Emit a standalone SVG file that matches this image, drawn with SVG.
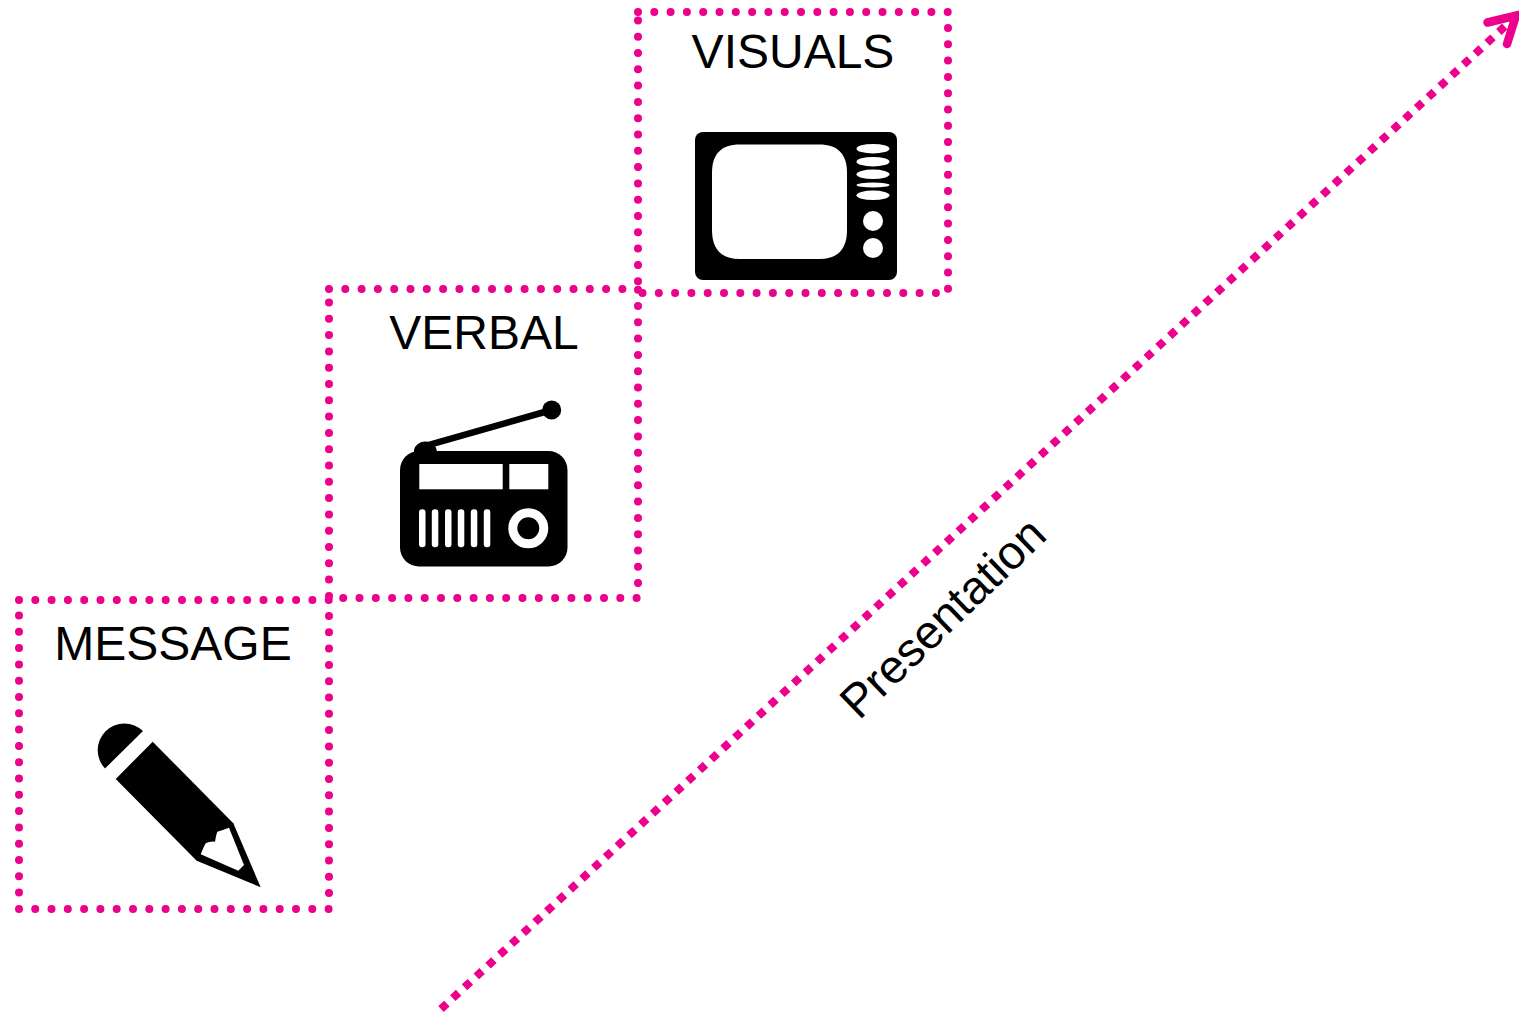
<svg xmlns="http://www.w3.org/2000/svg" width="1519" height="1013" viewBox="0 0 1519 1013">
<style>
.box{fill:none;stroke:#ec008c;stroke-width:8;stroke-linecap:round;stroke-dasharray:0 16.3}
.lbl{font-family:"Liberation Sans",Arial,sans-serif;font-size:48px;fill:#000;text-anchor:middle}
.k{fill:#000}.w{fill:#fff}
</style>
<rect width="1519" height="1013" fill="#fff"/>
<g id="connectors">
<path d="M441 1009L1514 18" fill="none" stroke="#ec008c" stroke-width="8" stroke-dasharray="8 8"/>
<path d="M1487.500 22.500L1516 15.500L1507 44" fill="none" stroke="#ec008c" stroke-width="8.500" stroke-linecap="round" stroke-linejoin="miter"/>
<text class="lbl" style="font-size:47px" transform="translate(942 617) rotate(-44)" y="17">Presentation</text>
</g>
<g id="message">
<path class="box" d="M19 600H329V909H19Z"/>
<text class="lbl" x="173" y="660">MESSAGE</text>
<path class="k" d="M143 731A26.700 26.700 0 0 0 105 768.500Z"/>
<path class="k" d="M152.700 741.700L115.700 779L196.700 860.700L260.700 887.300L233.300 823.300Z"/>
<path class="w" d="M229 827.700L244 865L238.300 870.700L200.700 854.300Q204 846 205.700 843.300Q210 841 215 841.700Q216 835 217.300 831.700Q223 830 229 827.700Z"/>
</g>
<g id="verbal">
<path class="box" d="M329 289H638V598H329Z"/>
<text class="lbl" x="484" y="349">VERBAL</text>
<path d="M423 446.700L551.700 410" stroke="#000" stroke-width="6.500" fill="none"/>
<circle class="k" cx="551.700" cy="410" r="9.500"/>
<path class="k" d="M414 455V450A11.500 10 0 0 1 436.700 450V455Z"/>
<rect class="k" x="400" y="451" width="167.500" height="115.500" rx="19"/>
<rect class="w" x="419.300" y="464" width="83.400" height="25.300"/>
<rect class="w" x="509.300" y="464" width="39" height="25.300"/>
<g class="w">
<rect x="419" y="509.300" width="6.500" height="38" rx="3"/>
<rect x="431.800" y="509.300" width="6.500" height="38" rx="3"/>
<rect x="445" y="509.300" width="6.500" height="38" rx="3"/>
<rect x="457.800" y="509.300" width="6.500" height="38" rx="3"/>
<rect x="470.800" y="509.300" width="6.500" height="38" rx="3"/>
<rect x="483.800" y="509.300" width="6.500" height="38" rx="3"/>
</g>
<circle cx="528.300" cy="528.300" r="15.500" fill="#000" stroke="#fff" stroke-width="9"/>
</g>
<g id="visuals">
<path class="box" d="M638 12H948V293H638Z"/>
<text class="lbl" x="793" y="68">VISUALS</text>
<rect class="k" x="695" y="132" width="202" height="148" rx="8"/>
<path class="w" d="M740 144.500H819C838 144.500 847 154 847 173V230C847 249 838 259 819 259H740C721 259 712 249 712 230V173C712 154 721 144.500 740 144.500Z"/>
<g class="w">
<ellipse cx="873" cy="148.700" rx="16.500" ry="4.800"/>
<ellipse cx="873" cy="161.700" rx="16.500" ry="4.800"/>
<ellipse cx="873" cy="174.300" rx="16.500" ry="4.800"/>
<ellipse cx="873" cy="185" rx="16.500" ry="2.500"/>
<ellipse cx="873" cy="195.300" rx="16.500" ry="4.800"/>
<circle cx="873" cy="221" r="10"/>
<circle cx="873" cy="248" r="10"/>
</g>
</g>
</svg>
